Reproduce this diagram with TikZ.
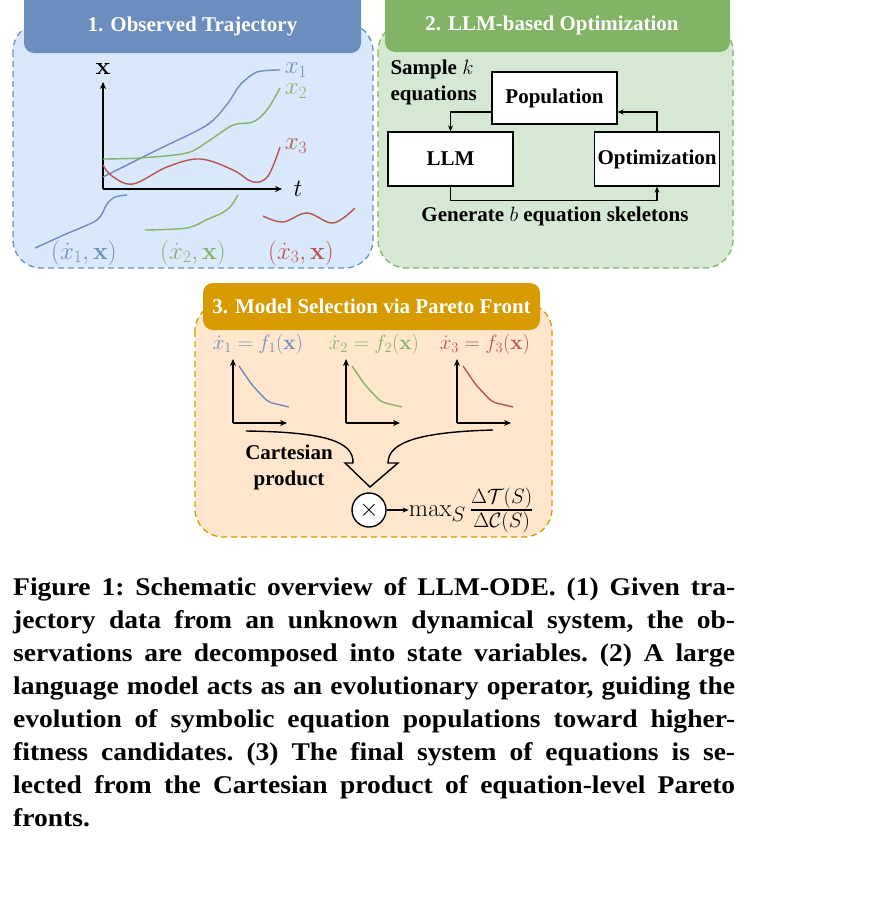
\documentclass[tikz,border=0pt]{standalone}
\usepackage{amsmath, amssymb}
\usepackage[no-math]{fontspec}
\setmainfont{Liberation Serif}
\newfontfamily\capfont{Liberation Serif}[FakeStretch=1.08]
\usepackage{tikz}
\usetikzlibrary{arrows.meta, positioning}
\definecolor{bluefill}{RGB}{218,232,252}
\definecolor{blueline}{RGB}{108,142,191}
\definecolor{greenfill}{RGB}{213,232,212}
\definecolor{greenline}{RGB}{130,179,102}
\definecolor{orangefill}{RGB}{255,230,204}
\definecolor{orangeline}{RGB}{215,155,0}
\definecolor{redline}{RGB}{184,84,80}
\newcommand{\capline}[1]{\makebox[722pt][s]{#1}\\}

\begin{document}
\begin{tikzpicture}[
    x=1pt, y=-1pt,
    panel/.style={dash pattern=on 6pt off 4pt, line width=1.3pt, rounded corners=28pt},
    title/.style={font=\bfseries\fontsize{21}{24}\selectfont, text=white},
    lbl/.style={font=\bfseries\fontsize{21}{26}\selectfont, align=center},
    box/.style={draw, line width=1.3pt, fill=white, font=\bfseries\fontsize{21}{24}\selectfont, inner sep=1pt, minimum width=125pt},
    eq/.style={font=\fontsize{22.5}{26}\selectfont, inner sep=1pt},
    big/.style={font=\fontsize{26}{30}\selectfont, inner sep=1pt},
    axis/.style={line width=1.6pt, -{Stealth[length=7pt, width=6pt]}},
    flow/.style={line width=1.2pt, -{Stealth[length=6pt, width=5pt]}},
    traj/.style={line width=1.4pt}
]
    \useasboundingbox (0,0) rectangle (894,910);
    \clip (0,0) rectangle (894,910);

    % panels
    \draw[panel, fill=bluefill, draw=blueline] (13,23) rectangle (373,268);
    \draw[panel, fill=greenfill, draw=greenline] (378,23) rectangle (733,268);
    \draw[panel, fill=orangefill, draw=orangeline] (195,303) rectangle (552,537);
    \fill[blueline, rounded corners=10pt] (24,-12) rectangle (361,53);
    \fill[greenline, rounded corners=10pt] (385,-12) rectangle (730,52);
    \fill[orangeline, rounded corners=10pt] (203,283) rectangle (540,330);
    \node[title] (t1) at (192.5,26) {1. Observed Trajectory};
    \node[title] (t2) at (552,25) {2. LLM-based Optimization};
    \node[title] (t3) at (371.5,306) {3. Model Selection via Pareto Front};

    % 1. trajectories
    \draw[axis] (103,189) -- (103,82);
    \draw[axis] (103,189) -- (282,189);
    \node[big] (xlab) at (103,69) {$\mathbf{x}$};
    \node[big] (tlab) at (298,189) {$t$};
    \draw[traj, blueline] plot[smooth, tension=0.5] coordinates {(103,177) (155,151) (207,125) (228,103) (240,85) (257,72) (280,70)};
    \draw[traj, greenline] plot[smooth, tension=0.5] coordinates {(103,159) (140,158) (187,153) (210,140) (233,125) (253,122) (267,110) (280,88)};
    \draw[traj, redline] plot[smooth, tension=0.6] coordinates {(103,165) (112,176) (133,184) (167,167) (200,159) (233,170) (253,182) (268,176) (280,147)};
    \node[big, text=blueline] (x1) at (296,70) {$x_1$};
    \node[big, text=greenline] (x2) at (296,91) {$x_2$};
    \node[big, text=redline] (x3) at (296,146) {$x_3$};
    \draw[traj, blueline] plot[smooth, tension=0.5] coordinates {(35,248) (66,234) (97,220) (107,204) (115,197) (127,195)};
    \draw[traj, greenline] plot[smooth, tension=0.5] coordinates {(145,230) (187,228) (208,219) (222,213) (231,206) (238,195)};
    \draw[traj, redline] plot[smooth, tension=0.6] coordinates {(263,216) (283,222) (307,213) (333,223) (355,208)};
    \node[big, text=blueline] (d1) at (84,253) {$(\dot{x}_1, \mathbf{x})$};
    \node[big, text=greenline] (d2) at (193,253) {$(\dot{x}_2, \mathbf{x})$};
    \node[big, text=redline] (d3) at (301,253) {$(\dot{x}_3, \mathbf{x})$};

    % 2. optimization loop
    \node[box, minimum height=52pt] (pop) at (554.5,98) {Population};
    \node[box, minimum height=54pt] (llm) at (450.5,159) {LLM};
    \node[box, minimum height=54pt] (opt) at (657,159) {Optimization};
    \node[lbl, align=left, anchor=west] (sample) at (387,82) {Sample $k$\\equations};
    \draw[flow] ([yshift=-14pt]pop.west) -| (llm.north);
    \draw[flow] (opt.north) |- ([yshift=-14pt]pop.east);
    \draw[flow] (llm.south) -- ++(0,14) -| (opt.south);
    \node[lbl] (gen) at (555,216) {Generate $b$ equation skeletons};

    % 3. pareto fronts
    \node[eq, text=blueline] (f1) at (258,344) {$\dot{x}_1 = f_1(\mathbf{x})$};
    \node[eq, text=greenline] (f2) at (374,344) {$\dot{x}_2 = f_2(\mathbf{x})$};
    \node[eq, text=redline] (f3) at (485,344) {$\dot{x}_3 = f_3(\mathbf{x})$};
    \foreach \ox/\col in {233/blueline, 346/greenline, 457/redline} {
        \draw[axis, line width=1.4pt] (\ox,423) -- (\ox,359);
        \draw[axis, line width=1.4pt] (\ox,423) -- (\ox+54,423);
        \draw[traj, \col, rounded corners=5pt] (\ox+6,366) -- (\ox+19,385) -- (\ox+35,402) -- (\ox+56,407);
    }
    \draw[line width=1.4pt] (246,431) .. controls (320,432) and (354,440) .. (353,463) -- (345,463) -- (370,487)
        -- (398,463) -- (388,463) .. controls (388,442) and (420,432) .. (493,430);
    \node[lbl] (cart) at (289,467) {Cartesian\\product};
    \node[draw, circle, line width=1.4pt, fill=white, minimum size=34pt, inner sep=0pt, big] (prod) at (369,510) {$\times$};
    \node[right=22pt of prod, inner sep=0pt, font=\fontsize{28}{32}\selectfont] (score) {$\max_S \frac{\Delta\mathcal{T}(S)}{\Delta\mathcal{C}(S)}$};
    \draw[flow] (prod) -- (score);

    % caption
    \node[anchor=north west, inner sep=0pt, align=left, font=\capfont\bfseries\fontsize{25.5}{33}\selectfont\frenchspacing] (caption) at (13,577) {%
        \capline{Figure 1: Schematic overview of LLM-ODE. (1) Given tra-}
        \capline{jectory data from an unknown dynamical system, the ob-}
        \capline{servations are decomposed into state variables. (2) A large}
        \capline{language model acts as an evolutionary operator, guiding the}
        \capline{evolution of symbolic equation populations toward higher-}
        \capline{fitness candidates. (3) The final system of equations is se-}
        \capline{lected from the Cartesian product of equation-level Pareto}
        fronts.};
\end{tikzpicture}
\end{document}
